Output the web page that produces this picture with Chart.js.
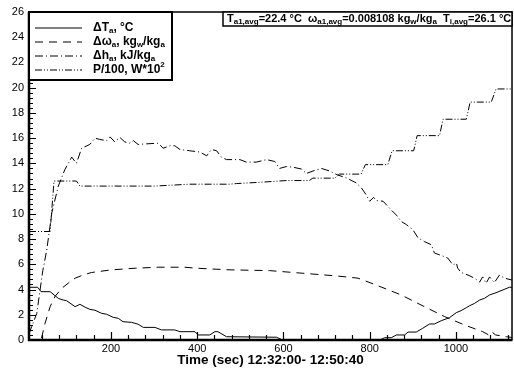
<!DOCTYPE html>
<html>
<head>
<meta charset="utf-8">
<script src="https://cdn.jsdelivr.net/npm/chart.js@4.4.1/dist/chart.umd.min.js"></script>
<style>
  html, body { margin: 0; padding: 0; background: #fff; }
  #wrap { width: 514px; height: 374px; }
</style>
</head>
<body>
<div id="wrap"><canvas id="chart" width="514" height="374"></canvas></div>
<script>
// Axis ticks
const xTickValues = [200, 400, 600, 800, 1000];
const yTickValues = [0, 2, 4, 6, 8, 10, 12, 14, 16, 18, 20, 22, 24, 26];

// Delta T_a, degC
const dTTime = [10, 30, 38, 59, 78, 89, 97, 117, 128, 140, 151, 163, 178, 190, 205, 217, 228, 248, 263, 275,
  302, 317, 348, 360, 395, 402, 429, 441, 448, 468, 584, 598, 823, 835, 850, 862, 881, 889, 908, 923,
  939, 950, 966, 985, 1001, 1012, 1024, 1032, 1043, 1055, 1066, 1078, 1093, 1109, 1124, 1130];
const dTValues = [4.18, 4.18, 3.83, 3.83, 3.3, 3.17, 3.12, 2.64, 2.83, 2.6, 2.43, 2.36, 2.12, 2.04, 1.8, 1.72, 1.45, 1.4, 1.25, 1.0,
  1.0, 0.8, 0.8, 0.66, 0.66, 0.4, 0.4, 0.66, 0.66, 0.26, 0.22, 0, 0, 0.18, 0.18, 0.4, 0.4, 0.63, 0.63, 0.93,
  1.27, 1.27, 1.53, 1.77, 2.17, 2.33, 2.56, 2.72, 2.9, 3.17, 3.3, 3.57, 3.75, 3.97, 4.18, 4.18];

// Delta omega_a, kg_w/kg_a
const dwTime = [10, 38, 47, 59, 70, 86, 101, 117, 136, 155, 201, 256, 310, 371, 398, 476, 568, 645, 723, 773,
  812, 873, 927, 974, 1020, 1062, 1076, 1083, 1092, 1117, 1130];
const dwValues = [0, 0, 1.3, 2.64, 3.44, 4.1, 4.5, 4.9, 5.16, 5.35, 5.56, 5.69, 5.77, 5.77, 5.69, 5.56, 5.5, 5.29, 5.08, 4.9,
  4.4, 3.57, 2.64, 1.85, 1.19, 0.66, 0.4, 0.65, 0.4, 0.26, 0.2];

// Delta h_a, kJ/kg_a
const dhTime = [10, 28, 42, 51, 63, 78, 93, 109, 120, 132, 151, 163, 174, 190, 198, 209, 221, 232, 244, 252,
  263, 283, 310, 321, 337, 348, 360, 383, 406, 422, 433, 445, 456, 468, 499, 514, 537, 561, 580, 591,
  607, 622, 642, 653, 669, 688, 707, 724, 746, 769, 781, 792, 800, 809, 815, 831, 846, 862, 873, 885,
  900, 912, 927, 943, 950, 966, 981, 993, 1001, 1004, 1012, 1028, 1043, 1055, 1062, 1070, 1078, 1089, 1101, 1113, 1130];
const dhValues = [0.5, 2.1, 5.5, 7.1, 10.1, 12.2, 13.5, 14.5, 14.0, 15.2, 15.5, 16.0, 15.9, 15.8, 16.1, 15.7, 16.05, 15.7, 15.6, 15.8,
  15.5, 15.55, 15.6, 15.2, 15.4, 15.4, 15.1, 15.0, 14.9, 14.6, 15.1, 15.0, 14.5, 14.3, 14.3, 14.1, 14.1, 14.3, 14.15, 13.6,
  13.75, 13.7, 13.55, 13.2, 13.4, 13.6, 13.4, 13.1, 12.85, 12.45, 12.05, 11.5, 11.0, 11.3, 11.05, 11.0, 10.45, 9.9, 9.4, 9.15,
  8.75, 8.1, 7.8, 7.55, 6.9, 6.7, 6.5, 5.95, 6.1, 5.7, 5.35, 5.15, 4.9, 4.6, 5.0, 4.5, 5.0, 4.55, 5.15, 4.9, 4.75];

// P/100, W*10^2
const pTime = [10, 59, 68, 120, 128, 300, 383, 475, 491, 545, 607, 660, 668, 719, 730, 780, 790, 842, 852, 902,
  910, 962, 970, 1024, 1033, 1082, 1093, 1130];
const pValues = [8.6, 8.6, 12.6, 12.6, 12.2, 12.2, 12.35, 12.35, 12.4, 12.5, 12.64, 12.64, 12.83, 12.83, 13.15, 13.15, 13.9, 13.9, 15.0, 15.0,
  16.2, 16.2, 17.5, 17.5, 18.86, 18.86, 19.9, 19.9];

const FONT = '"Liberation Sans", Arial, sans-serif';

function toPoints(xs, ys) {
  return xs.map((x, i) => ({ x: x, y: ys[i] }));
}

// Draw text with sub/superscript pieces, returns end x
function drawRich(ctx, parts, x, y, size) {
  parts.forEach(([txt, kind]) => {
    const s = kind === 'n' ? size : Math.round(size * 0.7);
    ctx.font = 'bold ' + s + 'px ' + FONT;
    let dy = 0;
    if (kind === 'sub') dy = size * 0.3;
    if (kind === 'sup') dy = -size * 0.4;
    ctx.fillText(txt, x, y + dy);
    x += ctx.measureText(txt).width;
  });
  return x;
}

const legendItems = [
  { dash: [], parts: [['\u0394T', 'n'], ['a', 'sub'], [', \u00b0C', 'n']] },
  { dash: [8, 6], parts: [['\u0394\u03c9', 'n'], ['a', 'sub'], [', kg', 'n'], ['w', 'sub'], ['/kg', 'n'], ['a', 'sub']] },
  { dash: [8, 3, 1, 3], parts: [['\u0394h', 'n'], ['a', 'sub'], [', kJ/kg', 'n'], ['a', 'sub']] },
  { dash: [7, 2, 1, 2, 1, 2], parts: [['P/100, W*10', 'n'], ['2', 'sup']] }
];

const infoParts = [
  ['T', 'n'], ['a1,avg', 'sub'], ['=22.4 \u00b0C  \u03c9', 'n'], ['a1,avg', 'sub'],
  ['=0.008108 kg', 'n'], ['w', 'sub'], ['/kg', 'n'], ['a', 'sub'], ['  T', 'n'], ['i,avg', 'sub'], ['=26.1 \u00b0C', 'n']
];

// Frame, inward ticks, legend box and info box
const decorations = {
  id: 'decorations',
  afterDraw(chart) {
    const { ctx, chartArea: a, scales: { x, y } } = chart;
    ctx.save();
    ctx.strokeStyle = '#000';
    ctx.fillStyle = '#000';
    ctx.setLineDash([]);

    // minor + major ticks
    ctx.lineWidth = 1.2;
    ctx.beginPath();
    for (let v = 40; v < 1130; v += 40) {
      const px = Math.round(x.getPixelForValue(v)) + 0.5;
      const len = v % 200 === 0 ? 8 : 5;
      ctx.moveTo(px, a.bottom);
      ctx.lineTo(px, a.bottom - len);
    }
    for (let i = 0; i <= 65; i++) {
      const v = i * 0.4;
      const py = Math.round(y.getPixelForValue(v)) + 0.5;
      const len = i % 5 === 0 ? 7 : 4;
      ctx.moveTo(a.left, py);
      ctx.lineTo(a.left + len, py);
    }
    ctx.stroke();

    // frame
    ctx.lineWidth = 1.5;
    ctx.strokeRect(a.left, a.top, a.right - a.left, a.bottom - a.top);
    ctx.lineWidth = 2.5;
    ctx.beginPath();
    ctx.moveTo(a.left, a.top);
    ctx.lineTo(a.left, a.bottom);
    ctx.lineTo(a.right, a.bottom);
    ctx.stroke();

    // legend box
    const lx = a.left, ly = a.top, lw = 143, lh = 68;
    ctx.fillStyle = '#fff';
    ctx.fillRect(lx, ly, lw, lh);
    ctx.lineWidth = 2;
    ctx.strokeRect(lx, ly, lw, lh);
    ctx.fillStyle = '#000';
    ctx.textBaseline = 'middle';
    legendItems.forEach((item, i) => {
      const rowY = ly + 15.5 + i * 14;
      ctx.lineWidth = 1;
      ctx.setLineDash(item.dash);
      ctx.beginPath();
      ctx.moveTo(lx + 6, rowY + 0.5);
      ctx.lineTo(lx + 53, rowY + 0.5);
      ctx.stroke();
      ctx.setLineDash([]);
      drawRich(ctx, item.parts, lx + 64, rowY, 12);
    });

    // info box
    const bx = 223, by = a.top, bw = a.right - 223, bh = 14;
    ctx.fillStyle = '#fff';
    ctx.fillRect(bx, by, bw, bh);
    ctx.lineWidth = 1.5;
    ctx.strokeRect(bx, by, bw, bh);
    ctx.fillStyle = '#000';
    drawRich(ctx, infoParts, bx + 4, by + 6.5, 11);

    ctx.restore();
  }
};

const lineStyle = { borderColor: '#000', borderWidth: 1, pointRadius: 0, tension: 0, fill: false };

new Chart(document.getElementById('chart'), {
  type: 'line',
  data: {
    datasets: [
      Object.assign({ label: 'dT', data: toPoints(dTTime, dTValues) }, lineStyle),
      Object.assign({ label: 'dw', data: toPoints(dwTime, dwValues), borderDash: [8, 6] }, lineStyle),
      Object.assign({ label: 'dh', data: toPoints(dhTime, dhValues), borderDash: [8, 3, 1, 3] }, lineStyle),
      Object.assign({ label: 'P', data: toPoints(pTime, pValues), borderDash: [7, 2, 1, 2, 1, 2] }, lineStyle)
    ]
  },
  options: {
    responsive: false,
    animation: false,
    devicePixelRatio: 1,
    layout: { padding: { top: 12, right: 2, left: 0, bottom: 0 } },
    plugins: {
      legend: { display: false },
      tooltip: { enabled: false },
      title: { display: false }
    },
    scales: {
      x: {
        type: 'linear',
        min: 10,
        max: 1130,
        grid: { display: false, drawTicks: false },
        border: { display: false },
        afterBuildTicks: (scale) => { scale.ticks = xTickValues.map(v => ({ value: v })); },
        afterFit: (scale) => { scale.height = 34; },
        ticks: {
          color: '#000',
          padding: 2,
          maxRotation: 0,
          font: { family: FONT, size: 11 },
          callback: (v) => String(v)
        },
        title: {
          display: true,
          text: 'Time (sec) 12:32:00- 12:50:40',
          color: '#000',
          font: { family: FONT, size: 13.5, weight: 'bold' },
          padding: { top: 0, bottom: 6 }
        }
      },
      y: {
        min: 0,
        max: 26,
        grid: { display: false, drawTicks: false },
        border: { display: false },
        afterBuildTicks: (scale) => { scale.ticks = yTickValues.map(v => ({ value: v })); },
        afterFit: (scale) => { scale.width = 29; },
        ticks: {
          color: '#000',
          padding: 5,
          font: { family: FONT, size: 11 }
        }
      }
    }
  },
  plugins: [decorations]
});
</script>
</body>
</html>
